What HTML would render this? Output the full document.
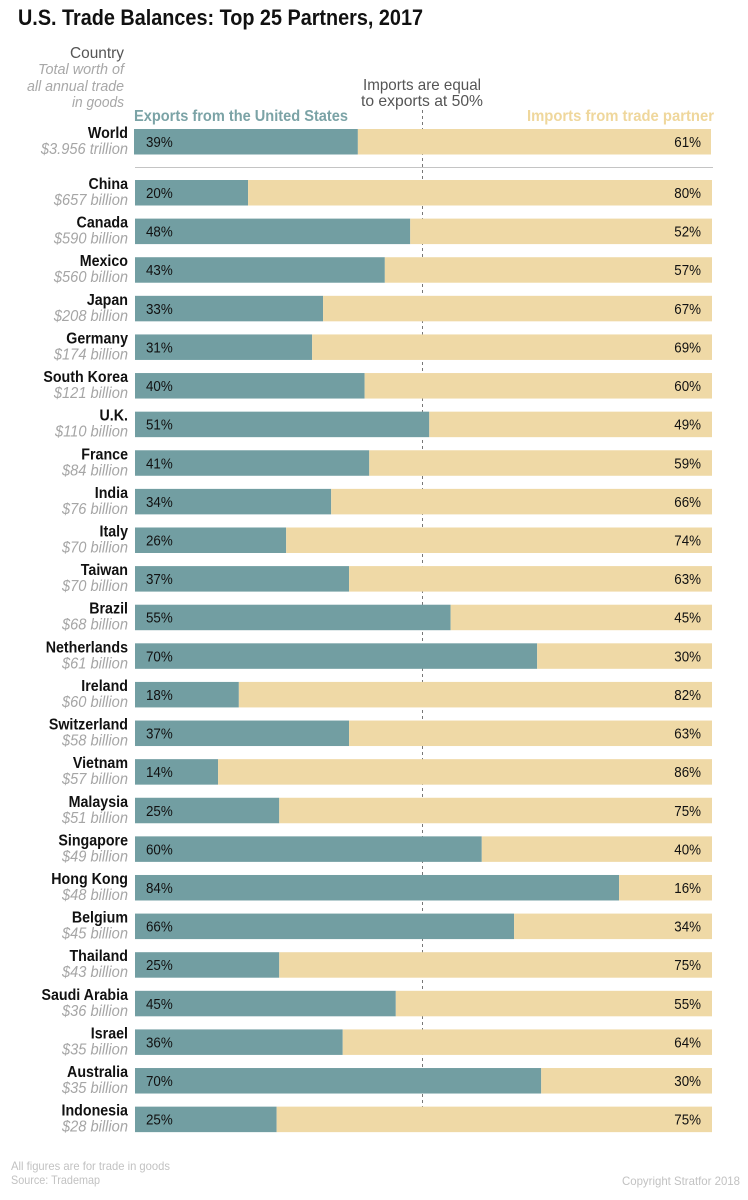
<!DOCTYPE html>
<html lang="en">
<head>
<meta charset="utf-8">
<title>U.S. Trade Balances: Top 25 Partners, 2017</title>
<style>
html,body{margin:0;padding:0;background:#fff;width:748px;height:1200px;overflow:hidden}
svg{display:block;font-family:"Liberation Sans",sans-serif}
</style>
</head>
<body>
<svg id="chart" width="748" height="1200" viewBox="0 0 748 1200" xmlns="http://www.w3.org/2000/svg">
  <rect x="0" y="0" width="748" height="1200" fill="#ffffff"/>
  <text x="18" y="25" font-size="22" font-weight="700" fill="#111" textLength="405" lengthAdjust="spacingAndGlyphs">U.S. Trade Balances: Top 25 Partners, 2017</text>

  <text x="124" y="58" font-size="16" text-anchor="end" fill="#555" textLength="54" lengthAdjust="spacingAndGlyphs">Country</text>
  <text x="124" y="74" font-size="15" font-style="italic" text-anchor="end" fill="#a8a8a8" textLength="86" lengthAdjust="spacingAndGlyphs">Total worth of</text>
  <text x="124" y="91" font-size="15" font-style="italic" text-anchor="end" fill="#a8a8a8" textLength="97" lengthAdjust="spacingAndGlyphs">all annual trade</text>
  <text x="124" y="107" font-size="15" font-style="italic" text-anchor="end" fill="#a8a8a8" textLength="52" lengthAdjust="spacingAndGlyphs">in goods</text>

  <text x="422" y="90" font-size="16" text-anchor="middle" fill="#555" textLength="118" lengthAdjust="spacingAndGlyphs">Imports are equal</text>
  <text x="422" y="106" font-size="16" text-anchor="middle" fill="#555" textLength="122" lengthAdjust="spacingAndGlyphs">to exports at 50%</text>

  <text x="134" y="121" font-size="16" font-weight="700" fill="#7ba3a6" textLength="214" lengthAdjust="spacingAndGlyphs">Exports from the United States</text>
  <text x="527" y="121" font-size="16" font-weight="700" fill="#efd79c" textLength="187" lengthAdjust="spacingAndGlyphs">Imports from trade partner</text>

  <line x1="422.5" y1="110" x2="422.5" y2="1107" stroke="#777" stroke-width="1" stroke-dasharray="3 3"/>
  <line x1="135" y1="167.5" x2="713" y2="167.5" stroke="#c4c4c4" stroke-width="1"/>

  <g id="rows"></g>

  <text x="11" y="1170" font-size="12" fill="#c2c2c2" textLength="159" lengthAdjust="spacingAndGlyphs">All figures are for trade in goods</text>
  <text x="11" y="1184" font-size="12" fill="#c2c2c2" textLength="89" lengthAdjust="spacingAndGlyphs">Source: Trademap</text>
  <text x="740" y="1185" font-size="12" text-anchor="end" fill="#c2c2c2" textLength="118" lengthAdjust="spacingAndGlyphs">Copyright Stratfor 2018</text>
</svg>
<script>
const worldName = 'World';
const worldWorth = '$3.956 trillion';
const worldExportShare = 38.8;

const countries = ['China','Canada','Mexico','Japan','Germany','South Korea','U.K.','France','India','Italy','Taiwan','Brazil','Netherlands','Ireland','Switzerland','Vietnam','Malaysia','Singapore','Hong Kong','Belgium','Thailand','Saudi Arabia','Israel','Australia','Indonesia'];
const worths = ['$657 billion','$590 billion','$560 billion','$208 billion','$174 billion','$121 billion','$110 billion','$84 billion','$76 billion','$70 billion','$70 billion','$68 billion','$61 billion','$60 billion','$58 billion','$57 billion','$51 billion','$49 billion','$48 billion','$45 billion','$43 billion','$36 billion','$35 billion','$35 billion','$28 billion'];
const exportShares = [19.6,47.7,43.3,32.6,30.7,39.8,51,40.6,34,26.2,37.1,54.7,69.7,18,37.1,14.4,25,60.1,83.9,65.7,25,45.2,36,70.4,24.55];

const SVG_NS = 'http://www.w3.org/2000/svg';
const rowsGroup = document.getElementById('rows');
const barLeft = 135, barWidth = 577, barHeight = 25.5;
const firstRowTop = 180, rowStep = 38.61;

function xScale(share) { return barLeft + share / 100 * barWidth; }
function rowTop(index) { return firstRowTop + index * rowStep; }

function svgEl(tag, attrs, text) {
  const el = document.createElementNS(SVG_NS, tag);
  for (const k in attrs) el.setAttribute(k, attrs[k]);
  if (text !== undefined) el.textContent = text;
  return el;
}

function condense(textEl, factor) {
  const w = textEl.getComputedTextLength();
  if (w > 0) {
    textEl.setAttribute('textLength', (w * factor).toFixed(2));
    textEl.setAttribute('lengthAdjust', 'spacingAndGlyphs');
  }
}

function drawRow(name, worth, share, top, slug, left) {
  const x0 = left;
  const xMid = xScale(share) + (left - barLeft);
  const xEnd = xScale(100) + (left - barLeft);

  const g = svgEl('g', {});
  
  
  rowsGroup.appendChild(g);

  const label = svgEl('text', {x: 128, y: top + 9, 'font-size': 16, 'font-weight': 700, 'text-anchor': 'end', fill: '#111'}, name);
  
  
  g.appendChild(label);
  condense(label, 0.89);

  const worthLabel = svgEl('text', {x: 128, y: top + 25, 'font-size': 15.5, 'font-style': 'italic', 'text-anchor': 'end', fill: '#a6a6a6'}, worth);
  
  
  g.appendChild(worthLabel);
  condense(worthLabel, 0.945);

  const exp = svgEl('rect', {x: x0, y: top, width: xMid - x0, height: barHeight, fill: '#729ea2'});
  
  
  g.appendChild(exp);

  const imp = svgEl('rect', {x: xMid, y: top, width: xEnd - xMid, height: barHeight, fill: '#efd9a6'});
  
  
  g.appendChild(imp);

  const expValue = svgEl('text', {x: 146, y: top + 18, 'font-size': 14.5, fill: '#111'}, Math.round(share) + '%');
  
  
  g.appendChild(expValue);
  condense(expValue, 0.92);

  const impValue = svgEl('text', {x: 701, y: top + 18, 'font-size': 14.5, 'text-anchor': 'end', fill: '#111'}, Math.round(100 - share) + '%');
  
  
  g.appendChild(impValue);
  condense(impValue, 0.92);
}

drawRow(worldName, worldWorth, worldExportShare, 129, 'world', 134);
countries.forEach(function (name, i) {
  drawRow(name, worths[i], exportShares[i], rowTop(i), name.toLowerCase().replace(/[^a-z]+/g, '-'), barLeft);
});
</script>
</body>
</html>
